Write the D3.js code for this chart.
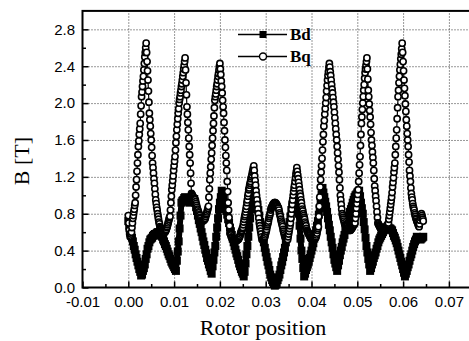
<!DOCTYPE html>
<html>
<head>
<meta charset="utf-8">
<script src="https://cdn.jsdelivr.net/npm/d3@7/dist/d3.min.js"></script>
<style>
  body { margin: 0; background: #fff; }
  .tick text { font-family: "Liberation Sans", Arial, sans-serif; font-size: 15px; fill: #000; }
  .axis-title { font-family: "Liberation Serif", "Times New Roman", serif; font-size: 22px; }
  .legend-text { font-family: "Liberation Serif", "Times New Roman", serif; font-size: 17px; font-weight: bold; }
</style>
</head>
<body>
<div id="chart"></div>
<script>
// rotor position sampled every 0.0002 (Bd) and 0.0001 (Bq), starting at 0
const bdStep = 0.0002;
const bqStep = 0.0001;

const bdValues = [
  0.72, 0.67, 0.62, 0.58, 0.54,
  0.50, 0.45, 0.41, 0.36, 0.32,
  0.28, 0.24, 0.20, 0.17, 0.13,
  0.14, 0.18, 0.21, 0.25, 0.31,
  0.36, 0.42, 0.45, 0.49, 0.52,
  0.53, 0.54, 0.56, 0.57, 0.58,
  0.58, 0.59, 0.60, 0.60, 0.58,
  0.57, 0.56, 0.55, 0.52, 0.50,
  0.47, 0.45, 0.42, 0.39, 0.36,
  0.34, 0.31, 0.28, 0.26, 0.24,
  0.22, 0.20, 0.18, 0.29, 0.39,
  0.50, 0.64, 0.78, 0.92, 0.94,
  0.95, 0.97, 0.98, 0.97, 0.96,
  0.95, 0.93, 0.92, 0.93, 0.94,
  0.95, 0.96, 0.96, 0.92, 0.87,
  0.83, 0.78, 0.73, 0.69, 0.64,
  0.60, 0.55, 0.50, 0.46, 0.41,
  0.37, 0.32, 0.29, 0.25, 0.22,
  0.18, 0.15, 0.23, 0.30, 0.38,
  0.45, 0.55, 0.65, 0.75, 0.85,
  0.92, 0.98, 1.05, 1.01, 0.97,
  0.92, 0.88, 0.83, 0.79, 0.74,
  0.70, 0.65, 0.61, 0.57, 0.53,
  0.49, 0.45, 0.41, 0.37, 0.34,
  0.30, 0.26, 0.23, 0.20, 0.17,
  0.15, 0.12, 0.17, 0.26, 0.36,
  0.45, 0.55, 0.65, 0.75, 0.85,
  0.93, 1.01, 1.08, 1.03, 0.99,
  0.94, 0.90, 0.84, 0.78, 0.71,
  0.65, 0.60, 0.54, 0.49, 0.43,
  0.38, 0.33, 0.28, 0.24, 0.19,
  0.14, 0.11, 0.08, 0.06, 0.04,
  0.02, 0.03, 0.05, 0.08, 0.11,
  0.14, 0.19, 0.24, 0.28, 0.33,
  0.38, 0.43, 0.49, 0.54, 0.60,
  0.65, 0.71, 0.77, 0.84, 0.90,
  0.94, 0.99, 1.04, 1.08, 1.00,
  0.90, 0.80, 0.67, 0.53, 0.40,
  0.31, 0.21, 0.12, 0.15, 0.19,
  0.22, 0.25, 0.28, 0.32, 0.36,
  0.40, 0.44, 0.48, 0.53, 0.58,
  0.62, 0.67, 0.72, 0.79, 0.86,
  0.94, 1.01, 1.08, 1.03, 0.98,
  0.93, 0.88, 0.82, 0.75, 0.68,
  0.62, 0.55, 0.49, 0.43, 0.36,
  0.30, 0.26, 0.22, 0.18, 0.24,
  0.29, 0.35, 0.40, 0.44, 0.49,
  0.53, 0.57, 0.62, 0.66, 0.70,
  0.74, 0.78, 0.82, 0.85, 0.88,
  0.92, 0.95, 0.98, 1.00, 1.01,
  1.03, 1.04, 1.05, 0.99, 0.92,
  0.86, 0.80, 0.71, 0.63, 0.54,
  0.45, 0.38, 0.31, 0.25, 0.18,
  0.21, 0.25, 0.28, 0.32, 0.35,
  0.38, 0.42, 0.45, 0.49, 0.52,
  0.54, 0.56, 0.58, 0.60, 0.62,
  0.63, 0.64, 0.65, 0.66, 0.65,
  0.64, 0.64, 0.63, 0.62, 0.59,
  0.56, 0.54, 0.51, 0.48, 0.44,
  0.40, 0.36, 0.32, 0.28, 0.24,
  0.20, 0.16, 0.12, 0.15, 0.18,
  0.22, 0.25, 0.29, 0.33, 0.36,
  0.40, 0.44, 0.47, 0.50, 0.52,
  0.55, 0.54, 0.53, 0.53, 0.52,
  0.53, 0.54, 0.55
];

const bqValues = [
  0.78, 0.70, 0.62, 0.58, 0.55, 0.56, 0.58, 0.60, 0.65, 0.70,
  0.75, 0.78, 0.82, 0.85, 0.89, 0.92, 1.00, 1.09, 1.17, 1.26,
  1.35, 1.44, 1.53, 1.59, 1.66, 1.72, 1.78, 1.88, 1.97, 2.07,
  2.12, 2.18, 2.24, 2.29, 2.36, 2.43, 2.50, 2.55, 2.60, 2.65,
  2.55, 2.45, 2.35, 2.25, 2.13, 2.01, 1.89, 1.82, 1.75, 1.67,
  1.60, 1.52, 1.43, 1.35, 1.30, 1.24, 1.18, 1.13, 1.07, 1.01,
  0.95, 0.91, 0.87, 0.84, 0.80, 0.77, 0.74, 0.71, 0.69, 0.66,
  0.65, 0.64, 0.63, 0.62, 0.61, 0.60, 0.60, 0.60, 0.60, 0.60,
  0.60, 0.61, 0.62, 0.63, 0.65, 0.66, 0.68, 0.70, 0.72, 0.74,
  0.76, 0.77, 0.84, 0.92, 0.99, 1.06, 1.11, 1.16, 1.21, 1.27,
  1.32, 1.37, 1.42, 1.49, 1.57, 1.64, 1.71, 1.77, 1.83, 1.89,
  1.94, 2.00, 2.04, 2.07, 2.11, 2.14, 2.18, 2.21, 2.25, 2.29,
  2.33, 2.37, 2.41, 2.45, 2.49, 2.36, 2.22, 2.09, 1.96, 1.88,
  1.79, 1.71, 1.62, 1.53, 1.44, 1.35, 1.24, 1.13, 1.02, 1.01,
  1.00, 0.99, 0.98, 0.97, 0.96, 0.96, 0.95, 0.93, 0.91, 0.89,
  0.87, 0.85, 0.84, 0.82, 0.81, 0.79, 0.78, 0.76, 0.75, 0.73,
  0.72, 0.72, 0.72, 0.72, 0.73, 0.73, 0.74, 0.74, 0.75, 0.77,
  0.79, 0.80, 0.82, 0.84, 0.86, 0.88, 0.98, 1.07, 1.17, 1.24,
  1.31, 1.39, 1.46, 1.54, 1.62, 1.70, 1.78, 1.86, 1.95, 2.03,
  2.07, 2.10, 2.14, 2.18, 2.21, 2.25, 2.29, 2.32, 2.36, 2.40,
  2.43, 2.37, 2.31, 2.24, 2.18, 2.11, 2.03, 1.96, 1.89, 1.79,
  1.70, 1.60, 1.52, 1.43, 1.35, 1.27, 1.15, 1.04, 0.92, 0.84,
  0.76, 0.67, 0.59, 0.58, 0.57, 0.55, 0.54, 0.53, 0.52, 0.51,
  0.50, 0.50, 0.50, 0.50, 0.51, 0.51, 0.51, 0.51, 0.52, 0.52,
  0.52, 0.53, 0.54, 0.55, 0.56, 0.58, 0.60, 0.61, 0.62, 0.64,
  0.65, 0.68, 0.71, 0.74, 0.77, 0.79, 0.82, 0.85, 0.88, 0.92,
  0.95, 0.99, 1.02, 1.06, 1.08, 1.11, 1.13, 1.15, 1.18, 1.20,
  1.22, 1.25, 1.27, 1.30, 1.32, 1.27, 1.21, 1.16, 1.11, 1.05,
  1.00, 0.95, 0.90, 0.85, 0.80, 0.75, 0.70, 0.67, 0.64, 0.61,
  0.58, 0.55, 0.52, 0.52, 0.52, 0.53, 0.54, 0.54, 0.55, 0.57,
  0.59, 0.61, 0.63, 0.66, 0.68, 0.70, 0.72, 0.75, 0.77, 0.79,
  0.81, 0.84, 0.86, 0.87, 0.88, 0.89, 0.90, 0.91, 0.91, 0.92,
  0.92, 0.92, 0.91, 0.91, 0.90, 0.89, 0.88, 0.87, 0.86, 0.84,
  0.81, 0.79, 0.77, 0.74, 0.72, 0.70, 0.68, 0.66, 0.63, 0.61,
  0.59, 0.57, 0.55, 0.54, 0.54, 0.53, 0.53, 0.52, 0.52, 0.55,
  0.58, 0.61, 0.64, 0.67, 0.70, 0.75, 0.80, 0.85, 0.90, 0.95,
  1.00, 1.04, 1.08, 1.11, 1.15, 1.19, 1.23, 1.26, 1.30, 1.26,
  1.22, 1.18, 1.14, 1.10, 1.06, 1.02, 0.99, 0.95, 0.92, 0.88,
  0.85, 0.83, 0.80, 0.78, 0.76, 0.74, 0.71, 0.69, 0.67, 0.64,
  0.62, 0.61, 0.60, 0.59, 0.58, 0.57, 0.56, 0.55, 0.54, 0.53,
  0.52, 0.52, 0.52, 0.52, 0.53, 0.53, 0.53, 0.53, 0.54, 0.54,
  0.55, 0.57, 0.59, 0.62, 0.64, 0.66, 0.77, 0.88, 0.98, 1.09,
  1.17, 1.25, 1.32, 1.40, 1.49, 1.58, 1.66, 1.75, 1.81, 1.88,
  1.94, 2.00, 2.06, 2.13, 2.19, 2.25, 2.30, 2.34, 2.39, 2.43,
  2.39, 2.34, 2.30, 2.25, 2.20, 2.15, 2.11, 2.06, 2.01, 1.96,
  1.90, 1.84, 1.78, 1.72, 1.66, 1.60, 1.53, 1.46, 1.39, 1.32,
  1.25, 1.17, 1.08, 1.00, 0.95, 0.90, 0.85, 0.80, 0.78, 0.76,
  0.74, 0.72, 0.70, 0.68, 0.68, 0.67, 0.67, 0.66, 0.66, 0.65,
  0.64, 0.64, 0.63, 0.63, 0.62, 0.62, 0.63, 0.64, 0.64, 0.65,
  0.66, 0.67, 0.68, 0.69, 0.69, 0.70, 0.75, 0.80, 0.86, 0.91,
  0.96, 1.01, 1.06, 1.15, 1.24, 1.33, 1.42, 1.54, 1.66, 1.78,
  1.85, 1.93, 2.00, 2.07, 2.14, 2.20, 2.27, 2.33, 2.37, 2.41,
  2.45, 2.49, 2.37, 2.26, 2.14, 2.07, 1.99, 1.92, 1.85, 1.77,
  1.68, 1.60, 1.54, 1.47, 1.41, 1.35, 1.27, 1.18, 1.10, 1.05,
  0.99, 0.94, 0.88, 0.82, 0.76, 0.70, 0.69, 0.68, 0.67, 0.66,
  0.65, 0.64, 0.63, 0.63, 0.62, 0.62, 0.62, 0.62, 0.63, 0.63,
  0.64, 0.64, 0.65, 0.66, 0.66, 0.67, 0.68, 0.69, 0.70, 0.74,
  0.78, 0.82, 0.86, 0.90, 0.94, 0.98, 1.03, 1.09, 1.14, 1.19,
  1.25, 1.30, 1.35, 1.44, 1.53, 1.62, 1.71, 1.83, 1.95, 2.07,
  2.14, 2.22, 2.29, 2.36, 2.42, 2.48, 2.53, 2.59, 2.65, 2.55,
  2.45, 2.35, 2.25, 2.16, 2.08, 1.99, 1.91, 1.82, 1.75, 1.67,
  1.60, 1.53, 1.44, 1.36, 1.27, 1.21, 1.15, 1.08, 1.02, 0.98,
  0.95, 0.91, 0.88, 0.86, 0.84, 0.81, 0.79, 0.77, 0.75, 0.74,
  0.72, 0.71, 0.70, 0.68, 0.67, 0.66, 0.69, 0.73, 0.76, 0.78,
  0.80, 0.78, 0.76, 0.74, 0.72
];

const seriesNames = ["Bd", "Bq"];
const xTicks = [-0.01, 0.00, 0.01, 0.02, 0.03, 0.04, 0.05, 0.06, 0.07];
const xMinorTicks = [-0.005, 0.005, 0.015, 0.025, 0.035, 0.045, 0.055, 0.065];
const yTicks = [0.0, 0.4, 0.8, 1.2, 1.6, 2.0, 2.4, 2.8];
const yMinorTicks = [0.2, 0.6, 1.0, 1.4, 1.8, 2.2, 2.6];

const width = 469, height = 341;
const plotLeft = 82.5, plotRight = 471.8, plotTop = 10.9, plotBottom = 287.5;

const x = d3.scaleLinear().domain([-0.01, 0.075]).range([plotLeft, plotRight]);
const y = d3.scaleLinear().domain([0, 3]).range([plotBottom, plotTop]);

const bdData = bdValues.map((v, i) => [i * bdStep, v]);
const bqData = bqValues.map((v, i) => [i * bqStep, v]);

// plain hyphen for the minus sign, like the original
const fmtX = (d) => d3.format(".2f")(d).replace("\u2212", "-");

const svg = d3.select("#chart").append("svg")
  .attr("width", width)
  .attr("height", height);

// dotted grid
svg.append("g")
  .attr("transform", `translate(0,${plotBottom})`)
  .call(d3.axisBottom(x).tickValues(xTicks.slice(1)).tickSize(-(plotBottom - plotTop)).tickFormat(""))
  .call(g => g.select(".domain").remove())
  .selectAll("line")
  .attr("stroke", "#333")
  .attr("stroke-dasharray", "1,2");

svg.append("g")
  .attr("transform", `translate(${plotLeft},0)`)
  .call(d3.axisLeft(y).tickValues(yTicks.slice(1)).tickSize(-(plotRight - plotLeft)).tickFormat(""))
  .call(g => g.select(".domain").remove())
  .selectAll("line")
  .attr("stroke", "#333")
  .attr("stroke-dasharray", "1,2");

const plot = svg.append("g");

// Bd : filled squares, drawn first; the thick path fills gaps between the dense squares
plot.append("path")
  .datum(bdData)
  .attr("fill", "none")
  .attr("stroke", "#000")
  .attr("stroke-width", 6)
  .attr("stroke-linejoin", "round")
  .attr("d", d3.line().x(d => x(d[0])).y(d => y(d[1])));

const sq = 8;
plot.selectAll("rect.bd")
  .data(bdData)
  .enter()
  .append("rect")
  .attr("class", "bd")
  .attr("x", d => x(d[0]) - sq / 2)
  .attr("y", d => y(d[1]) - sq / 2)
  .attr("width", sq)
  .attr("height", sq)
  .attr("fill", "#000");

// Bq : open circles
plot.append("path")
  .datum(bqData)
  .attr("fill", "none")
  .attr("stroke", "#000")
  .attr("stroke-width", 1.2)
  .attr("d", d3.line().x(d => x(d[0])).y(d => y(d[1])));

plot.selectAll("circle.bq")
  .data(bqData)
  .enter()
  .append("circle")
  .attr("class", "bq")
  .attr("cx", d => x(d[0]))
  .attr("cy", d => y(d[1]))
  .attr("r", 3.1)
  .attr("fill", "#fff")
  .attr("stroke", "#000")
  .attr("stroke-width", 1.6);

// frame
svg.append("rect")
  .attr("x", plotLeft)
  .attr("y", plotTop)
  .attr("width", plotRight - plotLeft)
  .attr("height", plotBottom - plotTop)
  .attr("fill", "none")
  .attr("stroke", "#000")
  .attr("stroke-width", 2);

// axes with inward ticks
const xAxis = svg.append("g")
  .attr("transform", `translate(0,${plotBottom})`)
  .call(d3.axisBottom(x).tickValues(xTicks).tickSize(-6).tickPadding(8.5).tickFormat(fmtX));
xAxis.select(".domain").remove();
xAxis.selectAll("line").attr("stroke-width", 1.5);

svg.append("g")
  .attr("transform", `translate(0,${plotBottom})`)
  .call(d3.axisBottom(x).tickValues(xMinorTicks).tickSize(-3.5).tickFormat(""))
  .call(g => g.select(".domain").remove())
  .selectAll("line").attr("stroke-width", 1.5);

const yAxis = svg.append("g")
  .attr("transform", `translate(${plotLeft},0)`)
  .call(d3.axisLeft(y).tickValues(yTicks).tickSize(-6).tickPadding(7.5).tickFormat(d3.format(".1f")));
yAxis.select(".domain").remove();
yAxis.selectAll("line").attr("stroke-width", 1.5);

svg.append("g")
  .attr("transform", `translate(${plotLeft},0)`)
  .call(d3.axisLeft(y).tickValues(yMinorTicks).tickSize(-3.5).tickFormat(""))
  .call(g => g.select(".domain").remove())
  .selectAll("line").attr("stroke-width", 1.5);

// axis titles
svg.append("text")
  .attr("class", "axis-title")
  .attr("x", 263)
  .attr("y", 335)
  .attr("text-anchor", "middle")
  .text("Rotor position");

svg.append("text")
  .attr("class", "axis-title")
  .attr("transform", "translate(28.5,161) rotate(-90)")
  .attr("text-anchor", "middle")
  .text("B [T]");

// legend
const legend = svg.append("g").attr("transform", "translate(238,0)");
seriesNames.forEach((name, i) => {
  const ly = 34.5 + i * 22;
  const row = legend.append("g").attr("transform", `translate(0,${ly})`);
  row.append("line")
    .attr("x1", 0).attr("x2", 49)
    .attr("stroke", "#000")
    .attr("stroke-width", 1.5);
  if (name === "Bd") {
    row.append("rect")
      .attr("x", 25 - 3.5).attr("y", -3.5)
      .attr("width", 7).attr("height", 7)
      .attr("fill", "#000");
  } else {
    row.append("circle")
      .attr("cx", 25).attr("r", 3.5)
      .attr("fill", "#fff")
      .attr("stroke", "#000")
      .attr("stroke-width", 1.4);
  }
  row.append("text")
    .attr("class", "legend-text")
    .attr("x", 52)
    .attr("y", 5.5)
    .text(name);
});
</script>
</body>
</html>
